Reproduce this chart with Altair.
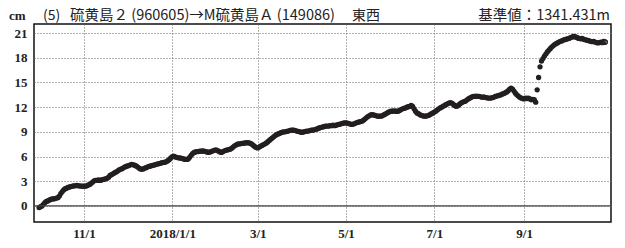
import altair as alt
import pandas as pd

start_date = "2017-10-01"
values = [
    # Oct 2017
    -0.2, -0.1, 0.0, 0.2, 0.4, 0.55, 0.6, 0.7, 0.8, 0.85, 0.85, 0.9, 0.95, 1.0, 1.2, 1.5,
    1.75, 1.95, 2.1, 2.15, 2.25, 2.3, 2.35, 2.4, 2.45, 2.45, 2.5, 2.45, 2.45, 2.4, 2.4,
    # Nov
    2.4, 2.4, 2.45, 2.55, 2.6, 2.75, 2.9, 3.05, 3.1, 3.1, 3.15, 3.1, 3.15, 3.2, 3.25,
    3.3, 3.35, 3.5, 3.7, 3.8, 3.9, 4.0, 4.1, 4.2, 4.35, 4.45, 4.5, 4.6, 4.7, 4.8,
    # Dec
    4.85, 4.9, 5.0, 5.05, 5.0, 4.95, 4.85, 4.75, 4.6, 4.5, 4.45, 4.5, 4.6, 4.65, 4.75,
    4.8, 4.85, 4.9, 4.95, 5.0, 5.05, 5.1, 5.15, 5.2, 5.25, 5.3, 5.3, 5.4, 5.5, 5.65, 5.85,
    # Jan 2018
    6.0, 6.05, 5.95, 5.9, 5.85, 5.85, 5.8, 5.75, 5.7, 5.65, 5.65, 5.7, 5.9, 6.15, 6.35,
    6.5, 6.55, 6.6, 6.6, 6.65, 6.65, 6.7, 6.65, 6.6, 6.55, 6.5, 6.55, 6.6, 6.7, 6.75, 6.8,
    # Feb
    6.75, 6.65, 6.55, 6.5, 6.6, 6.7, 6.75, 6.8, 6.85, 6.9, 7.0, 7.15, 7.3, 7.4, 7.5,
    7.55, 7.55, 7.6, 7.6, 7.65, 7.65, 7.7, 7.65, 7.6, 7.5, 7.35, 7.2, 7.1,
    # Mar
    7.05, 7.15, 7.25, 7.35, 7.45, 7.55, 7.65, 7.8, 7.95, 8.1, 8.25, 8.4, 8.55, 8.65, 8.75,
    8.8, 8.9, 8.95, 9.0, 9.0, 9.05, 9.1, 9.15, 9.2, 9.2, 9.2, 9.15, 9.1, 9.05, 9.0, 8.95,
    # Apr
    8.95, 9.0, 9.05, 9.1, 9.1, 9.15, 9.2, 9.2, 9.25, 9.3, 9.35, 9.45, 9.5, 9.55, 9.6,
    9.65, 9.7, 9.7, 9.7, 9.75, 9.75, 9.8, 9.75, 9.8, 9.85, 9.9, 9.95, 10.0, 10.05, 10.1,
    # May
    10.1, 10.05, 10.0, 9.95, 9.9, 9.95, 10.0, 10.1, 10.15, 10.2, 10.25, 10.3, 10.4, 10.55,
    10.7, 10.85, 10.95, 11.05, 11.1, 11.05, 11.0, 10.95, 10.9, 10.9, 10.9, 10.95, 11.05,
    11.15, 11.25, 11.35, 11.45,
    # Jun
    11.5, 11.5, 11.55, 11.5, 11.5, 11.5, 11.6, 11.7, 11.8, 11.85, 11.9, 12.0, 12.05, 12.1,
    12.2, 12.1, 11.8, 11.5, 11.3, 11.2, 11.1, 11.0, 10.95, 10.9, 10.9, 10.95, 11.0, 11.1,
    11.2, 11.3,
    # Jul
    11.4, 11.5, 11.65, 11.8, 11.9, 12.0, 12.1, 12.2, 12.3, 12.4, 12.5, 12.55, 12.5, 12.35,
    12.2, 12.1, 12.15, 12.3, 12.45, 12.55, 12.65, 12.7, 12.8, 12.95, 13.05, 13.15, 13.25,
    13.3, 13.3, 13.35, 13.3,
    # Aug
    13.3, 13.25, 13.2, 13.25, 13.2, 13.15, 13.1, 13.1, 13.1, 13.15, 13.2, 13.3, 13.35,
    13.4, 13.45, 13.5, 13.6, 13.65, 13.75, 13.85, 14.0, 14.2, 14.3, 14.2, 13.95, 13.7,
    13.5, 13.35, 13.2, 13.1, 13.05,
    # Sep
    13.0, 13.1, 13.05, 13.1, 13.0, 12.9, 12.95, 12.9, 12.6, 14.1, 15.6, 16.9, 17.6, 17.9,
    18.2, 18.45, 18.7, 18.9, 19.1, 19.3, 19.45, 19.6, 19.7, 19.8, 19.9, 20.0, 20.05, 20.15,
    20.2, 20.25,
    # Oct
    20.3, 20.35, 20.45, 20.5, 20.6, 20.55, 20.5, 20.4, 20.35, 20.3, 20.35, 20.25, 20.2,
    20.15, 20.1, 20.05, 20.0, 19.95, 20.0, 19.9, 19.85, 19.8, 19.85, 19.9, 19.85, 19.95, 19.9,
]
n_provisional = 3

y_ticks = [0, 3, 6, 9, 12, 15, 18, 21]
x_tick_dates = ["2017-11-01", "2018-01-01", "2018-03-01", "2018-05-01", "2018-07-01", "2018-09-01"]
x_domain = ["2017-09-27T12:00:00", "2018-10-31T00:00:00"]
y_domain = [-1.95, 22.1]

title_unit = "cm"
title_no = "(5)"
title_main = "硫黄島２ (960605)→M硫黄島Ａ (149086)"
title_comp = "東西"
title_ref = "基準値：1341.431m"

dates = pd.date_range(start_date, periods=len(values), freq="D")
df = pd.DataFrame({
    "date": dates.strftime("%Y-%m-%d"),
    "value": values,
    "kind": ["final"] * (len(values) - n_provisional) + ["prov"] * n_provisional,
})

def ms(s):
    return int(pd.Timestamp(s).value // 10**6)

W, H = 577, 198
num_font = "Liberation Sans Narrow"
jp_font = "Noto Sans CJK JP"

y_axis = alt.Axis(
    values=y_ticks, title=None, grid=True, gridDash=[1, 2], gridColor="#666",
    gridWidth=1, ticks=False, domain=False, labelFont=num_font, labelFontSize=13,
    labelFontWeight="bold", labelColor="#222", labelPadding=7, labelOverlap=False,
)
y_scale = alt.Scale(domain=y_domain, nice=False, zero=False)

x_enc = alt.X(
    "date:T",
    scale=alt.Scale(type="utc", domain=[ms(d) for d in x_domain]),
    axis=alt.Axis(
        values=[ms(d) for d in x_tick_dates],
        labelExpr="utcmonth(datum.value)==0 ? utcyear(datum.value)+'/1/1' : (utcmonth(datum.value)+1)+'/'+utcdate(datum.value)",
        title=None, grid=True, gridDash=[1, 2], gridColor="#666", gridWidth=1,
        ticks=False, domain=False, labelFont=num_font, labelFontSize=13,
        labelFontWeight="bold", labelColor="#222", labelPadding=5,
    ),
)
y_enc = alt.Y("value:Q", scale=y_scale, axis=y_axis)

base = alt.Chart(df)
pts = base.transform_filter("datum.kind=='final'").mark_circle(
    size=28, opacity=1, color="#231f20"
).encode(x=x_enc, y=y_enc)
prov = base.transform_filter("datum.kind=='prov'").mark_point(
    size=20, filled=False, color="#231f20", strokeWidth=1.2, opacity=1
).encode(x="date:T", y=y_enc)

zero = alt.Chart(pd.DataFrame({"value": [0]})).mark_rule(color="#444", strokeWidth=1.2).encode(
    y=y_enc
)

def txt(s, x, align, font, size, weight="normal"):
    return alt.Chart(pd.DataFrame({"t": [s]})).mark_text(
        align=align, baseline="middle", font=font, fontSize=size, fontWeight=weight,
        color="#222",
    ).encode(text="t:N", x=alt.value(x), y=alt.value(-8))

titles = [
    txt(title_unit, -25, "left", num_font, 13, "bold"),
    txt(title_no, 9, "left", jp_font, 14),
    txt(title_main, 36, "left", jp_font, 14.5),
    txt(title_comp, 318, "left", jp_font, 14),
    txt(title_ref, 576, "right", jp_font, 14.5),
]

chart = alt.layer(pts, prov, zero, *titles).properties(
    width=W, height=H,
    padding={"left": 26, "top": 16, "right": 6, "bottom": 18},
    autosize=alt.AutoSizeParams(type="none"),
    background="white",
).configure_view(stroke="#111", strokeWidth=1.5)

chart.save("out.html", embed_options={"renderer": "svg", "actions": False})
